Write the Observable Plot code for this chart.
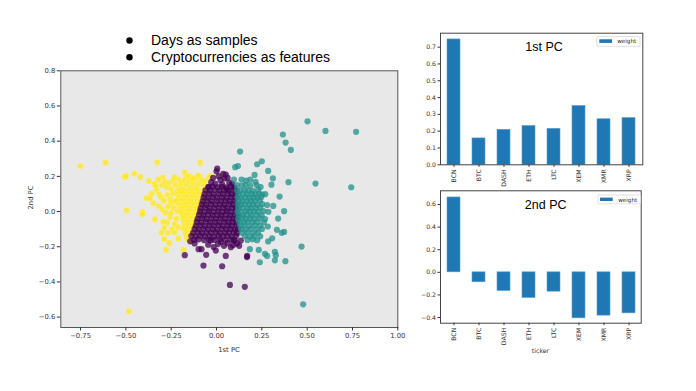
<!DOCTYPE html>
<html>
<head>
<meta charset="utf-8">
<script src="https://cdn.jsdelivr.net/npm/d3@7"></script>
<script src="https://cdn.jsdelivr.net/npm/@observablehq/plot@0.6"></script>
<style>
  html, body { margin: 0; padding: 0; background: #fff; }
  #wrap { position: relative; width: 696px; height: 391px; overflow: hidden; }
  #wrap > svg, #wrap > figure { position: absolute; margin: 0; }
</style>
</head>
<body>
<div id="wrap"></div>
<script>
// ---------- data ----------
const tickers = ["BCN", "BTC", "DASH", "ETH", "LTC", "XEM", "XMR", "XRP"];
const pc1Weights = [0.746, 0.157, 0.208, 0.231, 0.214, 0.350, 0.271, 0.278];
const pc2Weights = [0.662, -0.088, -0.165, -0.227, -0.171, -0.407, -0.383, -0.363];

const scatterXTicks = [-0.75, -0.5, -0.25, 0, 0.25, 0.5, 0.75, 1.0];
const scatterXTickLabels = ["\u22120.75", "\u22120.50", "\u22120.25", "0.00", "0.25", "0.50", "0.75", "1.00"];
const scatterYTicks = [-0.6, -0.4, -0.2, 0, 0.2, 0.4, 0.6, 0.8];
const scatterYTickLabels = ["\u22120.6", "\u22120.4", "\u22120.2", "0.0", "0.2", "0.4", "0.6", "0.8"];
const bar1YTicks = [0, 0.1, 0.2, 0.3, 0.4, 0.5, 0.6, 0.7];
const bar1YTickLabels = ["0.0", "0.1", "0.2", "0.3", "0.4", "0.5", "0.6", "0.7"];
const bar2YTicks = [-0.4, -0.2, 0, 0.2, 0.4, 0.6];
const bar2YTickLabels = ["\u22120.4", "\u22120.2", "0.0", "0.2", "0.4", "0.6"];

// cluster 0 (yellow)
const yellowPts = [
[-0.752,0.259],[-0.612,0.278],[-0.327,0.280],[-0.090,0.278],[-0.507,0.197],[-0.500,0.201],[-0.454,0.216],[-0.421,0.197],[-0.373,0.174],[-0.342,0.157],[-0.296,0.193],[-0.386,0.076],[-0.368,0.077],[-0.496,0.006],[-0.408,-0.002],[-0.409,-0.015],[-0.340,-0.045],[-0.294,-0.059],[-0.303,-0.119],[-0.289,-0.157],[-0.261,-0.180],[-0.278,-0.218],[-0.182,-0.218],[-0.211,-0.153],[-0.483,-0.568],[-0.176,0.223],[-0.169,0.199],[-0.151,0.201],[-0.092,0.199],[-0.103,0.205],[-0.042,0.195],[-0.033,0.201],
[-0.335,0.142],[-0.331,0.121],[-0.316,0.098],[-0.301,0.151],[-0.284,0.168],[-0.276,0.139],[-0.262,0.161],[-0.251,0.128],[-0.240,0.176],[-0.306,0.081],[-0.291,0.062],[-0.271,0.094],[-0.256,0.069],[-0.241,0.102],[-0.319,0.031],[-0.298,0.012],[-0.281,-0.006],[-0.266,0.029],[-0.249,0.051],[-0.236,0.021],[-0.288,-0.092],[-0.272,-0.061],[-0.256,-0.031],[-0.246,-0.101],[-0.231,-0.072],[-0.226,0.151],[-0.216,0.119],[-0.209,0.181],[-0.199,0.139],[-0.194,0.162],[-0.186,0.128],[-0.178,0.176],[-0.164,0.152],[-0.149,0.171],[-0.141,0.139],[-0.126,0.166],[-0.118,0.186],[-0.111,0.141],[-0.096,0.161],[-0.081,0.176],[-0.071,0.149],[-0.061,0.174],[-0.131,0.189],[-0.268,-0.122],[-0.232,-0.118],[-0.212,-0.088],[-0.221,-0.041],[-0.216,0.002],[-0.229,0.061],[-0.252,-0.009],[-0.358,0.102],[-0.349,0.048],[-0.321,0.182],[-0.232,0.196],
[-0.201,0.121],[-0.176,0.118],[-0.151,0.122],[-0.128,0.117],[-0.106,0.121],[-0.086,0.119],[-0.066,0.123],
[-0.214,0.099],[-0.189,0.102],[-0.166,0.098],[-0.143,0.101],[-0.121,0.097],[-0.099,0.102],[-0.079,0.099],[-0.063,0.104],
[-0.206,0.081],[-0.183,0.078],[-0.161,0.082],[-0.137,0.079],[-0.116,0.081],[-0.094,0.077],[-0.074,0.082],
[-0.224,0.059],[-0.197,0.062],[-0.176,0.058],[-0.153,0.061],[-0.129,0.059],[-0.109,0.062],[-0.089,0.058],[-0.076,0.063],
[-0.209,0.041],[-0.187,0.038],[-0.166,0.042],[-0.143,0.039],[-0.121,0.041],[-0.101,0.038],[-0.084,0.042],
[-0.199,0.019],[-0.177,0.022],[-0.156,0.018],[-0.134,0.021],[-0.113,0.019],[-0.093,0.022],
[-0.194,0.001],[-0.171,-0.002],[-0.151,0.002],[-0.129,-0.001],[-0.109,0.001],[-0.097,-0.003],
[-0.187,-0.021],[-0.164,-0.018],[-0.144,-0.022],[-0.123,-0.019],[-0.106,-0.021],
[-0.184,-0.039],[-0.161,-0.042],[-0.141,-0.038],[-0.121,-0.041],[-0.111,-0.037],
[-0.179,-0.061],[-0.157,-0.058],[-0.137,-0.062],[-0.119,-0.059],
[-0.177,-0.081],[-0.156,-0.078],[-0.134,-0.082],[-0.123,-0.079],
[-0.183,-0.099],[-0.161,-0.102],[-0.141,-0.098],[-0.129,-0.101],
[-0.171,-0.121],[-0.151,-0.118],[-0.136,-0.122],
[-0.166,-0.139],[-0.149,-0.142],
[-0.161,-0.158],[-0.146,-0.162]
];

// cluster 1 (purple)
const purplePts = [
[0.004,0.244],[0.000,0.229],[0.037,0.214],[0.051,0.210],[0.022,0.180],[-0.006,0.157],[-0.029,0.167],[0.070,0.165],[0.057,0.129],[-0.019,0.191],[0.044,0.188],[0.061,0.192],[0.086,0.158],[0.031,0.154],[0.012,0.201],[-0.041,0.141],
[-0.046,0.139],[-0.021,0.142],[0.006,0.138],[0.029,0.141],[0.054,0.137],[0.079,0.142],[0.099,0.136],
[-0.061,0.121],[-0.036,0.118],[-0.011,0.122],[0.016,0.119],[0.041,0.121],[0.066,0.118],[0.089,0.122],[0.108,0.117],
[-0.066,0.099],[-0.041,0.102],[-0.016,0.098],[0.011,0.101],[0.036,0.099],[0.061,0.102],[0.084,0.098],[0.107,0.101],
[-0.071,0.081],[-0.046,0.078],[-0.021,0.082],[0.004,0.079],[0.031,0.081],[0.056,0.078],[0.081,0.082],[0.104,0.079],
[-0.076,0.059],[-0.051,0.062],[-0.026,0.058],[0.001,0.061],[0.026,0.059],[0.049,0.062],[0.074,0.058],[0.099,0.061],
[-0.081,0.041],[-0.056,0.038],[-0.031,0.042],[-0.006,0.039],[0.019,0.041],[0.044,0.038],[0.069,0.042],[0.092,0.039],[0.111,0.041],
[-0.087,0.019],[-0.062,0.022],[-0.037,0.018],[-0.012,0.021],[0.013,0.019],[0.038,0.022],[0.061,0.018],[0.086,0.021],[0.109,0.019],
[-0.091,0.001],[-0.066,-0.002],[-0.041,0.002],[-0.016,-0.001],[0.009,0.001],[0.034,-0.002],[0.057,0.002],[0.082,-0.001],[0.107,0.002],
[-0.097,-0.019],[-0.072,-0.022],[-0.047,-0.018],[-0.022,-0.021],[0.003,-0.019],[0.026,-0.022],[0.051,-0.018],[0.076,-0.021],[0.101,-0.019],[0.117,-0.022],
[-0.104,-0.041],[-0.079,-0.038],[-0.054,-0.042],[-0.029,-0.039],[-0.004,-0.041],[0.021,-0.038],[0.046,-0.042],[0.071,-0.039],[0.094,-0.041],[0.114,-0.038],
[-0.109,-0.059],[-0.084,-0.062],[-0.059,-0.058],[-0.034,-0.061],[-0.009,-0.059],[0.016,-0.062],[0.041,-0.058],[0.066,-0.061],[0.089,-0.059],[0.111,-0.062],
[-0.114,-0.081],[-0.089,-0.078],[-0.064,-0.082],[-0.039,-0.079],[-0.014,-0.081],[0.011,-0.078],[0.036,-0.082],[0.061,-0.079],[0.084,-0.081],[0.109,-0.078],
[-0.121,-0.099],[-0.096,-0.102],[-0.071,-0.098],[-0.046,-0.101],[-0.021,-0.099],[0.004,-0.102],[0.029,-0.098],[0.054,-0.101],[0.077,-0.099],[0.102,-0.102],[0.119,-0.098],
[-0.129,-0.121],[-0.104,-0.118],[-0.079,-0.122],[-0.054,-0.119],[-0.029,-0.121],[-0.004,-0.118],[0.021,-0.122],[0.046,-0.119],[0.069,-0.121],[0.094,-0.118],[0.114,-0.122],
[-0.139,-0.139],[-0.114,-0.142],[-0.089,-0.138],[-0.064,-0.141],[-0.039,-0.139],[-0.014,-0.142],[0.011,-0.138],[0.036,-0.141],[0.059,-0.139],[0.084,-0.142],[0.109,-0.138],
[-0.124,-0.161],[-0.099,-0.158],[-0.069,-0.162],[-0.041,-0.159],[-0.011,-0.161],[0.019,-0.158],[0.049,-0.162],[0.079,-0.159],[0.101,-0.163],
[-0.175,-0.248],[-0.145,-0.169],[-0.099,-0.214],[-0.083,-0.214],[-0.057,-0.246],[-0.072,-0.307],[-0.004,-0.222],[0.031,-0.311],[0.051,-0.252],[0.074,-0.417],[0.156,-0.428],[0.169,-0.252],[0.168,-0.259],[0.079,-0.203],[0.125,-0.195],[0.134,-0.165],[0.096,-0.165],[0.024,-0.172],[-0.033,-0.165],[-0.121,-0.181],[-0.046,-0.188],[0.008,-0.185],[0.041,-0.195],[0.061,-0.180],[0.113,-0.182],[-0.016,-0.202],[0.091,-0.191]
];

// cluster 2 (teal)
const tealPts = [
[0.502,0.513],[0.601,0.458],[0.770,0.453],[0.366,0.438],[0.381,0.392],[0.410,0.350],[0.130,0.341],[0.250,0.286],[0.224,0.269],[0.103,0.252],[0.118,0.259],[0.285,0.231],[0.210,0.208],[0.311,0.189],[0.397,0.167],[0.303,0.153],[0.546,0.159],[0.743,0.138],[0.348,0.085],[0.313,0.032],[0.373,0.002],[0.340,-0.040],[0.333,-0.104],[0.373,-0.116],[0.360,-0.121],[0.307,-0.152],[0.283,-0.085],[0.469,-0.199],[0.380,-0.282],[0.322,-0.229],[0.327,-0.248],[0.322,-0.277],[0.267,-0.241],[0.279,-0.252],[0.239,-0.288],[0.233,-0.218],[0.184,-0.214],[0.285,-0.170],[0.478,-0.527],
[0.096,0.182],[0.138,0.182],[0.186,0.181],[0.163,0.176],[0.215,0.169],
[0.114,0.151],[0.139,0.148],[0.161,0.152],[0.186,0.147],[0.221,0.151],[0.243,0.139],
[0.112,0.121],[0.131,0.117],[0.156,0.122],[0.176,0.119],[0.199,0.118],[0.229,0.122],
[0.121,0.099],[0.146,0.102],[0.169,0.098],[0.196,0.101],[0.214,0.098],[0.236,0.102],[0.253,0.097],[0.269,0.099],
[0.116,0.081],[0.136,0.078],[0.159,0.082],[0.181,0.079],[0.204,0.081],[0.226,0.078],[0.246,0.082],
[0.121,0.059],[0.141,0.062],[0.166,0.058],[0.189,0.061],[0.211,0.059],[0.239,0.063],
[0.116,0.041],[0.134,0.038],[0.156,0.042],[0.179,0.039],[0.201,0.041],[0.224,0.038],[0.252,0.042],[0.279,0.037],
[0.121,0.019],[0.144,0.022],[0.171,0.018],[0.191,0.021],[0.216,0.019],[0.241,0.022],
[0.116,0.001],[0.136,-0.002],[0.161,0.002],[0.184,-0.001],[0.206,0.001],[0.231,-0.002],[0.259,0.003],[0.286,-0.001],
[0.121,-0.019],[0.146,-0.022],[0.166,-0.018],[0.191,-0.021],[0.219,-0.019],[0.249,-0.022],
[0.119,-0.041],[0.141,-0.038],[0.161,-0.042],[0.186,-0.039],[0.209,-0.041],[0.238,-0.038],[0.268,-0.043],
[0.126,-0.059],[0.151,-0.062],[0.174,-0.058],[0.199,-0.061],[0.226,-0.059],[0.261,-0.062],
[0.131,-0.081],[0.154,-0.078],[0.181,-0.082],[0.211,-0.079],[0.241,-0.081],
[0.136,-0.099],[0.161,-0.102],[0.189,-0.098],[0.219,-0.101],[0.251,-0.099],
[0.141,-0.121],[0.169,-0.118],[0.199,-0.122],[0.229,-0.119],
[0.156,-0.139],[0.184,-0.142],[0.209,-0.138],[0.241,-0.141],
[0.171,-0.161],[0.199,-0.158],[0.224,-0.163]
];

// ---------- drawing ----------
const wrap = document.getElementById("wrap");
const tickFont = "DejaVu Sans, sans-serif";
const lookup = (vals, labs) => d => { const i = vals.findIndex(v => Math.abs(v - d) < 1e-9); return i >= 0 ? labs[i] : ""; };

function place(el, left, top) {
  el.style.position = "absolute";
  el.style.left = left + "px";
  el.style.top = top + "px";
  wrap.appendChild(el);
}

// scatter
const scatter = Plot.plot({
  width: 410, height: 300,
  marginLeft: 60.3, marginRight: 12.7, marginTop: 10.3, marginBottom: 33,
  style: { background: "transparent", fontFamily: tickFont, fontSize: "6.8px", color: "#333", overflow: "visible" },
  x: { domain: [-0.859, 1.0] },
  y: { domain: [-0.659, 0.8] },
  marks: [
    Plot.frame({ fill: "#e8e8e8", stroke: "none" }),
    Plot.dot(yellowPts, { x: d => d[0], y: d => d[1], r: 3.1, fill: "#fde725", fillOpacity: 0.8, stroke: "#fff", strokeOpacity: 0.35, strokeWidth: 0.5 }),
    Plot.dot(purplePts, { x: d => d[0], y: d => d[1], r: 3.1, fill: "#440154", fillOpacity: 0.75 }),
    Plot.dot(tealPts, { x: d => d[0], y: d => d[1], r: 3.1, fill: "#21918c", fillOpacity: 0.75 }),
    Plot.frame({ stroke: "#555", fill: "none" }),
    Plot.axisX({ ticks: scatterXTicks, tickFormat: lookup(scatterXTicks, scatterXTickLabels), tickSize: 3.5, tickPadding: 2, label: null }),
    Plot.axisY({ ticks: scatterYTicks, tickFormat: lookup(scatterYTicks, scatterYTickLabels), tickSize: 3.5, tickPadding: 2, label: null })
  ]
});
place(scatter, 0, 60);

function barChart(weights, yDomain, yTicks, yLabels, mTop, mBottom, mRight) {
  const rows = tickers.map((t, i) => ({ ticker: t, weight: weights[i] }));
  return Plot.plot({
    width: 250, height: 175,
    marginLeft: 40, marginRight: mRight, marginTop: mTop, marginBottom: mBottom,
    style: { background: "transparent", fontFamily: tickFont, fontSize: "6.2px", color: "#333", overflow: "visible" },
    x: { type: "band", domain: tickers, paddingInner: 0.5, paddingOuter: 0.25 },
    y: { domain: yDomain },
    marks: [
      Plot.barY(rows, { x: "ticker", y: "weight", fill: "#1f77b4", stroke: "#5a9fd0", strokeWidth: 0.6 }),
      Plot.frame({ stroke: "#444", fill: "none" }),
      Plot.axisX({ tickRotate: -90, tickSize: 2.5, tickPadding: 2, label: null }),
      Plot.axisY({ ticks: yTicks, tickFormat: lookup(yTicks, yLabels), tickSize: 2.5, tickPadding: 2, label: null })
    ]
  });
}
const bar1 = barChart(pc1Weights, [0, 0.783], bar1YTicks, bar1YTickLabels, 12.7, 30.7, 7.7);
place(bar1, 400, 20);
const bar2 = barChart(pc2Weights, [-0.450, 0.721], bar2YTicks, bar2YTickLabels, 10.3, 32.3, 9.3);
place(bar2, 400, 180);

// overlay annotations (titles, legends, axis labels)
const ns = "http://www.w3.org/2000/svg";
const ov = document.createElementNS(ns, "svg");
ov.setAttribute("width", 696); ov.setAttribute("height", 391);
ov.style.position = "absolute"; ov.style.left = "0px"; ov.style.top = "0px"; ov.style.pointerEvents = "none";
wrap.appendChild(ov);
function txt(s, x, y, opts = {}) {
  const t = document.createElementNS(ns, "text");
  t.textContent = s;
  t.setAttribute("x", x); t.setAttribute("y", y);
  t.setAttribute("font-family", opts.family || "Liberation Sans, Arial, sans-serif");
  t.setAttribute("font-size", opts.size || 14);
  t.setAttribute("fill", opts.fill || "#000");
  if (opts.anchor) t.setAttribute("text-anchor", opts.anchor);
  if (opts.rotate) t.setAttribute("transform", `rotate(${opts.rotate} ${x} ${y})`);
  ov.appendChild(t);
}
function shape(tag, attrs) {
  const e = document.createElementNS(ns, tag);
  for (const k in attrs) e.setAttribute(k, attrs[k]);
  ov.appendChild(e);
}
// bullets
shape("circle", { cx: 129.5, cy: 40.5, r: 3.2, fill: "#000" });
shape("circle", { cx: 129.5, cy: 57.2, r: 3.2, fill: "#000" });
txt("Days as samples", 151, 45.2, { size: 14 });
txt("Cryptocurrencies as features", 151, 61.8, { size: 14 });
// scatter axis labels
txt("1st PC", 229, 351.7, { family: tickFont, size: 6.8, anchor: "middle", fill: "#333" });
txt("2nd PC", 33, 197.5, { family: tickFont, size: 6.8, anchor: "middle", fill: "#333", rotate: -90 });
// bar titles
txt("1st PC", 544, 51, { size: 12.5, anchor: "middle" });
txt("2nd PC", 545.7, 209.3, { size: 12.5, anchor: "middle" });
txt("ticker", 540.5, 352.5, { family: tickFont, size: 6.2, anchor: "middle", fill: "#333" });
// legends
shape("rect", { x: 596.7, y: 36.5, width: 43.3, height: 9.8, fill: "#fff", stroke: "#ccc", "stroke-width": 0.6, rx: 1 });
shape("rect", { x: 599.3, y: 39.3, width: 12.7, height: 3.6, fill: "#1f77b4" });
txt("weight", 617.3, 43.4, { family: tickFont, size: 5.6, fill: "#222" });
shape("rect", { x: 598, y: 195, width: 42.7, height: 8.8, fill: "#fff", stroke: "#ccc", "stroke-width": 0.6, rx: 1 });
shape("rect", { x: 600, y: 197.6, width: 12.7, height: 3.4, fill: "#1f77b4" });
txt("weight", 618.3, 201.5, { family: tickFont, size: 5.6, fill: "#222" });
</script>
</body>
</html>
